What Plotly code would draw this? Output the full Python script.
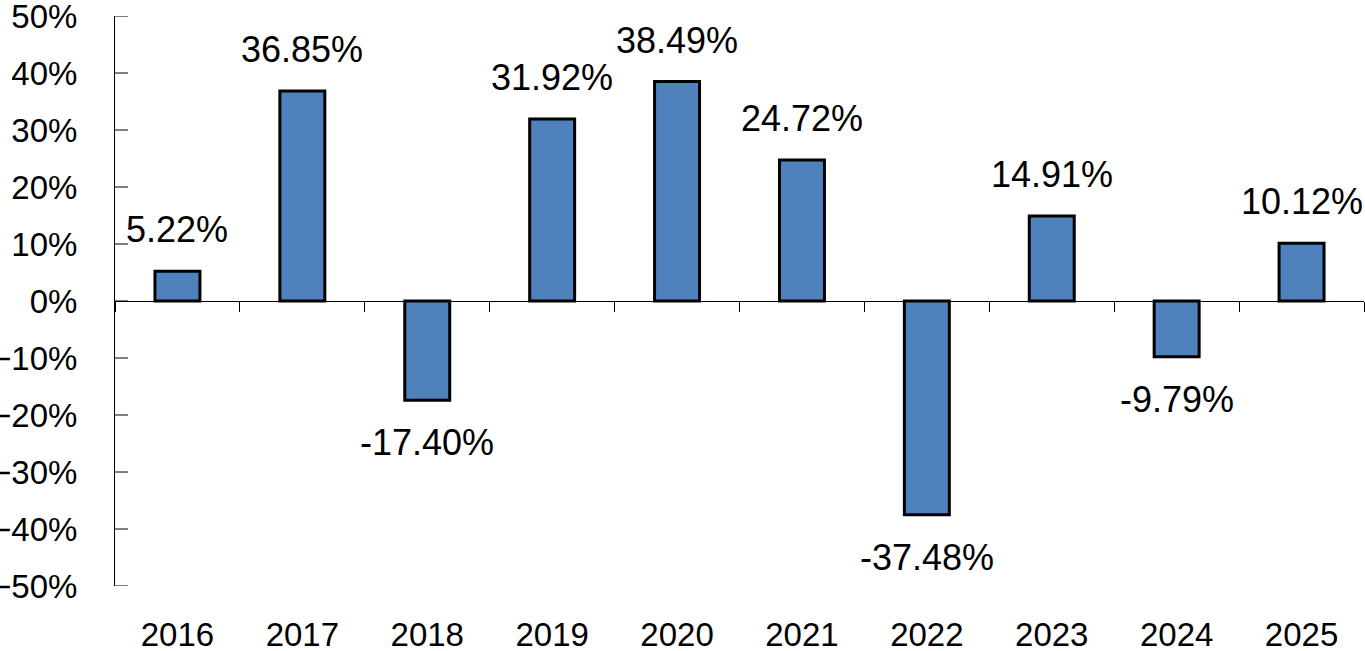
import plotly.graph_objects as go

years = ["2016", "2017", "2018", "2019", "2020", "2021", "2022", "2023", "2024", "2025"]
returns = [5.22, 36.85, -17.40, 31.92, 38.49, 24.72, -37.48, 14.91, -9.79, 10.12]

y_ticks = [-0.5, -0.4, -0.3, -0.2, -0.1, 0, 0.1, 0.2, 0.3, 0.4, 0.5]

FONT = "Liberation Sans, Arial, sans-serif"

vals = [r / 100 for r in returns]
n = len(years)

fig = go.Figure()
fig.add_trace(go.Bar(
    x=years, y=vals,
    width=0.36,
    marker=dict(color="#4F81BD", line=dict(color="black", width=3)),
    hoverinfo="skip",
))

# value labels above / below each bar (category index as x position)
for i, (v, r) in enumerate(zip(vals, returns)):
    fig.add_annotation(
        x=i, y=v, xref="x", yref="y", text=f"{r:.2f}%", showarrow=False,
        yanchor="bottom" if v >= 0 else "top",
        yshift=19 if v >= 0 else -20,
        font=dict(family=FONT, size=36, color="black"),
    )

# short tick marks on the inner side of the value axis
for t in y_ticks:
    fig.add_shape(
        type="line", xref="paper", yref="y",
        xsizemode="pixel", xanchor=0, x0=0, x1=13, y0=t, y1=t,
        line=dict(color="black", width=1),
    )

fig.update_layout(
    template="none",
    width=1365, height=651,
    margin=dict(l=115, r=1, t=16, b=65),
    plot_bgcolor="white", paper_bgcolor="white",
    showlegend=False,
    font=dict(family=FONT, size=33, color="black"),
    # category axis drawn through zero, labels pushed down to the bottom
    xaxis=dict(
        type="category", range=[-0.5, n - 0.5],
        anchor="free", position=0.5,
        showline=True, linecolor="black", linewidth=1,
        ticks="outside", tickson="boundaries", ticklen=10, tickcolor="black",
        ticklabelstandoff=304,
        showgrid=False, zeroline=False, automargin=False,
    ),
    yaxis=dict(
        range=[-0.5, 0.5], tickvals=y_ticks, tickformat=".0%",
        showline=True, linecolor="black", linewidth=1,
        ticks="", ticklabelstandoff=30, ticklabeloverflow="allow",
        showgrid=False, zeroline=False, automargin=False,
    ),
)

# page has a default 8px body margin; drop it so the chart fills the window
fig.write_html("out.html", config={"displayModeBar": False},
               post_script="document.body.style.margin='0';")
